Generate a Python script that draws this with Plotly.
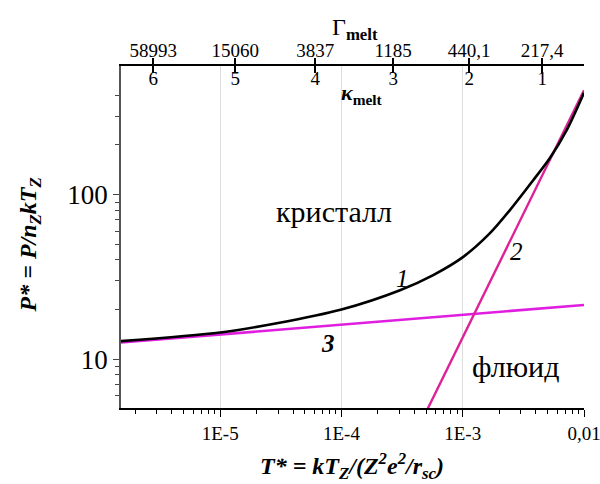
import plotly.graph_objects as go

# Reduced temperature T* and reduced pressure P* along the melting curve
curve1_T = [1.52e-6, 1.0e-5, 2.93e-5, 1.0e-4, 3.04e-4, 5.71e-4, 1.01e-3,
            1.67e-3, 2.45e-3, 3.81e-3, 5.22e-3, 7.18e-3, 1.0e-2]
curve1_P = [12.85, 14.5, 16.5, 20.0, 26.2, 32.4, 41.8,
            58.0, 80.4, 122.0, 166.0, 245.0, 415.0]

# Fluid-side asymptote (line 2) and low-temperature asymptote (line 3)
line2_T = [5.15e-4, 1.0e-2]
line2_P = [5.0, 430.0]
line3_T = [1.52e-6, 1.0e-2]
line3_P = [12.6, 21.3]

# Top scales: screening parameter kappa_melt and coupling Gamma_melt
kappa_T = [2.81e-6, 1.33e-5, 6.07e-5, 2.67e-4, 1.13e-3, 4.52e-3]
kappa_labels = ["6", "5", "4", "3", "2", "1"]
gamma_labels = ["58993", "15060", "3837", "1185", "440,1", "217,4"]

# Bottom / left tick labels
x_ticks = [1e-5, 1e-4, 1e-3, 1e-2]
x_tick_labels = ["1E-5", "1E-4", "1E-3", "0,01"]
y_ticks = [10, 100]
y_tick_labels = ["10", "100"]

x_range_log = [-5.818, -2.0]
y_range_log = [0.7025, 2.781]

x_minor = [m * 10 ** e for e in range(-6, -2) for m in range(2, 10)]
x_minor = [v for v in x_minor if 1.52e-6 < v < 1e-2]
y_minor = [m * 10 ** e for e in range(0, 3) for m in range(2, 10)]
y_minor = [v for v in y_minor if 5.05 < v < 600]

SERIF = "Liberation Serif"
MAGENTA = "#e01ee0"
PINK = "#dd2299"


def serif(size):
    return dict(family=SERIF, size=size, color="black")


fig = go.Figure()
fig.add_trace(go.Scatter(x=line3_T, y=line3_P, mode="lines",
                         line=dict(color=MAGENTA, width=2.6), hoverinfo="skip"))
fig.add_trace(go.Scatter(x=line2_T, y=line2_P, mode="lines",
                         line=dict(color=PINK, width=2.4), hoverinfo="skip"))
fig.add_trace(go.Scatter(x=curve1_T, y=curve1_P, mode="lines",
                         line=dict(color="black", width=2.6, shape="spline", smoothing=0.8),
                         hoverinfo="skip"))
# carriers for the top axes
for ax in ("x2", "x3", "x4"):
    fig.add_trace(go.Scatter(x=kappa_T, y=[None] * len(kappa_T), xaxis=ax, mode="lines",
                             hoverinfo="skip"))

top_common = dict(type="log", range=x_range_log, overlaying="x", side="top", anchor="y",
                  tickvals=kappa_T, showgrid=False, zeroline=False, automargin=False)

fig.update_layout(
    width=600, height=484,
    margin=dict(l=121, r=16, t=66, b=76, autoexpand=False),
    paper_bgcolor="white", plot_bgcolor="white",
    showlegend=False,
    font=serif(19),
    xaxis=dict(
        type="log", range=x_range_log, automargin=False,
        tickvals=x_ticks, ticktext=x_tick_labels, tickfont=serif(19),
        ticks="outside", ticklen=7, tickwidth=1.3, tickcolor="black",
        ticklabeloverflow="allow",
        showline=True, linecolor="black", linewidth=1.5,
        showgrid=True, gridcolor="#dddddd", gridwidth=1,
        minor=dict(tickvals=x_minor, ticks="outside", ticklen=4, tickwidth=1,
                   tickcolor="black", showgrid=False),
        zeroline=False,
    ),
    yaxis=dict(
        type="log", range=y_range_log, automargin=False,
        tickvals=y_ticks, ticktext=y_tick_labels, tickfont=serif(27),
        ticks="outside", ticklen=6, tickwidth=1.3, tickcolor="#444",
        showline=True, linecolor="#555", linewidth=1.8,
        showgrid=False,
        minor=dict(tickvals=y_minor, ticks="outside", ticklen=4, tickwidth=1,
                   tickcolor="#444", showgrid=False),
        zeroline=False,
    ),
    # Gamma labels above the top axis line
    xaxis2=dict(**top_common, ticktext=gamma_labels, tickfont=serif(19),
                ticks="", showline=True, linecolor="black", linewidth=1.5),
    # kappa labels and inner tick halves below the top axis line
    xaxis3=dict(**top_common, ticktext=kappa_labels, tickfont=serif(19),
                ticks="inside", ticklen=7, tickwidth=1.5, tickcolor="black",
                ticklabelposition="inside", showline=False),
    # outer tick halves
    xaxis4=dict(**top_common, showticklabels=False,
                ticks="outside", ticklen=7, tickwidth=1.5, tickcolor="black",
                showline=False),
)

annotations = [
    # axis titles
    dict(text="<b><i>P* = P/n<sub>Z</sub>kT<sub>Z</sub></i></b>", x=-0.196, y=0.476,
         textangle=-90, font=serif(24)),
    dict(text="<b><i>T* = kT<sub>Z</sub>/(Z<sup>2</sup>e<sup>2</sup>/r<sub>sc</sub>)</i></b>",
         x=0.499, y=-0.171, font=serif(24)),
    dict(text="Γ<sub><b>melt</b></sub>", x=0.505, y=1.108, font=serif(24)),
    dict(text="<b><i>κ</i><sub>melt</sub></b>", x=0.52, y=0.918, font=serif(22)),
    # region labels
    dict(text="кристалл", x=0.46, y=0.575, font=serif(30)),
    dict(text="флюид", x=0.853, y=0.12, font=serif(30)),
    # curve labels
    dict(text="<i>1</i>", x=0.607, y=0.38, font=serif(25)),
    dict(text="<i>2</i>", x=0.855, y=0.458, font=serif(25)),
    dict(text="<b><i>3</i></b>", x=0.447, y=0.19, font=serif(25)),
]
for a in annotations:
    fig.add_annotation(xref="paper", yref="paper", showarrow=False,
                       xanchor="center", yanchor="middle", **a)

fig.write_html("out.html")
